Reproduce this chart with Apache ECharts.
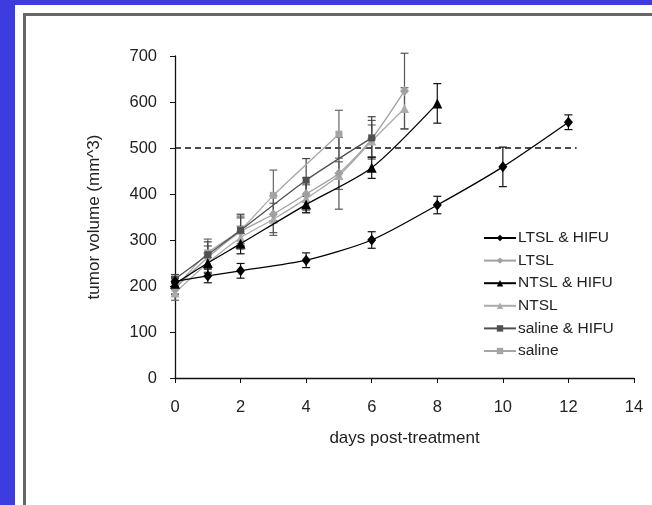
<!DOCTYPE html>
<html>
<head>
<meta charset="utf-8">
<script src="https://cdn.jsdelivr.net/npm/echarts@6/dist/echarts.min.js"></script>
<style>
  html, body { margin: 0; padding: 0; background: #fff; }
  #main { width: 652px; height: 505px; }
</style>
</head>
<body>
<div id="main"></div>
<script>
// days and mean tumor volume (mm^3) with +/- error
var daysLtslHifu = [0, 1, 2, 4, 6, 8, 10, 12];
var ltslHifu     = [210, 222, 233, 256, 300, 376, 459, 556];
var ltslHifuErr  = [10, 15, 16, 16, 18, 19, 43, 16];

var daysLtsl = [0, 1, 2, 3, 4, 5, 6, 7];
var ltsl     = [195, 262, 318, 356, 400, 445, 520, 624];
var ltslErr  = [14, 25, 30, 40, 35, 78, 40, 82];

var daysNtslHifu = [0, 1, 2, 4, 6, 8];
var ntslHifu     = [205, 250, 292, 377, 457, 597];
var ntslHifuErr  = [12, 22, 22, 18, 23, 43];

var daysNtsl = [0, 1, 2, 3, 4, 5, 6, 7];
var ntsl     = [185, 250, 305, 345, 390, 440, 515, 586];
var ntslErr  = [16, 20, 25, 35, 30, 30, 35, 45];

var daysSalineHifu = [0, 1, 2, 4, 6];
var salineHifu     = [215, 268, 321, 430, 522];
var salineHifuErr  = [10, 28, 35, 47, 46];

var daysSaline = [0, 1, 2, 3, 5];
var saline     = [195, 272, 322, 397, 530];
var salineErr  = [12, 30, 30, 55, 52];

var threshold = [[0, 500], [12.25, 500]];

var xTicks = [0, 2, 4, 6, 8, 10, 12, 14];
var yTicks = [0, 100, 200, 300, 400, 500, 600, 700];

var fontFam = '"Liberation Sans", Arial, sans-serif';

function pairs(days, vals) {
    return days.map(function (d, i) { return [d, vals[i]]; });
}
function errData(days, vals, err) {
    return days.map(function (d, i) { return [d, vals[i] - err[i], vals[i] + err[i]]; });
}

function lineSeries(name, days, vals, color, symbol, size, z) {
    return {
        name: name,
        type: 'line',
        data: pairs(days, vals),
        smooth: 0.25,
        symbol: symbol,
        symbolSize: size,
        z: z,
        lineStyle: { color: color, width: 1.3 },
        itemStyle: { color: color, borderWidth: 0 },
        emphasis: { disabled: true }
    };
}

function errSeries(name, days, vals, err, color, z) {
    return {
        name: name + ' err',
        type: 'custom',
        z: z,
        data: errData(days, vals, err),
        renderItem: function (params, api) {
            var x = api.value(0);
            var lo = api.coord([x, api.value(1)]);
            var hi = api.coord([x, api.value(2)]);
            var w = 4;
            var st = { stroke: color, lineWidth: 1.2 };
            return {
                type: 'group',
                children: [
                    { type: 'line', shape: { x1: hi[0], y1: hi[1], x2: lo[0], y2: lo[1] }, style: st },
                    { type: 'line', shape: { x1: hi[0] - w, y1: hi[1], x2: hi[0] + w, y2: hi[1] }, style: st },
                    { type: 'line', shape: { x1: lo[0] - w, y1: lo[1], x2: lo[0] + w, y2: lo[1] }, style: st }
                ]
            };
        }
    };
}

var names = ['LTSL & HIFU', 'LTSL', 'NTSL & HIFU', 'NTSL', 'saline & HIFU', 'saline'];

var option = {
    animation: false,
    backgroundColor: '#fff',
    textStyle: { fontFamily: fontFam },
    graphic: [
        { type: 'rect', left: 0, top: 0, shape: { width: 652, height: 505 }, style: { fill: '#3d3ddf' }, z: -10, silent: true },
        { type: 'rect', left: 15, top: 5, shape: { width: 700, height: 600 }, style: { fill: '#fff' }, z: -9, silent: true },
        { type: 'rect', left: 22, top: 12, shape: { x: 0, y: 0, width: 700, height: 600 }, style: { fill: 'none', stroke: '#666', lineWidth: 3 }, z: -8, silent: true }
    ],
    grid: { left: 175, top: 56, width: 459, height: 322 },
    legend: {
        data: names,
        orient: 'vertical',
        left: 478,
        top: 225,
        itemWidth: 32,
        itemHeight: 8,
        itemGap: 6.6,
        textStyle: { fontFamily: fontFam, fontSize: 15.5, color: '#222', padding: [0, 0, 0, -3] },
        selectedMode: false
    },
    xAxis: {
        type: 'value',
        min: xTicks[0],
        max: xTicks[xTicks.length - 1],
        interval: 2,
        name: 'days post-treatment',
        nameLocation: 'middle',
        nameGap: 52,
        nameTextStyle: { fontSize: 17, color: '#222', fontFamily: fontFam },
        axisLine: { lineStyle: { color: '#111', width: 1.3 } },
        axisTick: { show: true, length: 5, lineStyle: { color: '#111' } },
        axisLabel: { fontSize: 16.5, color: '#222', margin: 21, fontFamily: fontFam },
        splitLine: { show: false }
    },
    yAxis: {
        type: 'value',
        min: yTicks[0],
        max: yTicks[yTicks.length - 1],
        interval: 100,
        name: 'tumor volume (mm^3)',
        nameLocation: 'middle',
        nameGap: 72,
        nameTextStyle: { fontSize: 17, color: '#222', fontFamily: fontFam },
        axisLine: { show: true, lineStyle: { color: '#111', width: 1.3 } },
        axisTick: { show: true, length: 5, lineStyle: { color: '#111' } },
        axisLabel: { fontSize: 16.5, color: '#222', margin: 18, fontFamily: fontFam },
        splitLine: { show: false }
    },
    series: [
        {
            name: 'threshold',
            type: 'line',
            data: threshold,
            symbol: 'none',
            z: 1,
            lineStyle: { color: '#111', width: 1.5, type: [6, 4] },
            emphasis: { disabled: true }
        },
        errSeries('saline', daysSaline, saline, salineErr, '#666', 2),
        errSeries('NTSL', daysNtsl, ntsl, ntslErr, '#666', 2),
        errSeries('LTSL', daysLtsl, ltsl, ltslErr, '#555', 2),
        errSeries('saline & HIFU', daysSalineHifu, salineHifu, salineHifuErr, '#444', 2),
        errSeries('NTSL & HIFU', daysNtslHifu, ntslHifu, ntslHifuErr, '#111', 2),
        errSeries('LTSL & HIFU', daysLtslHifu, ltslHifu, ltslHifuErr, '#111', 2),
        lineSeries('saline', daysSaline, saline, '#a5a5a5', 'rect', 7, 3),
        lineSeries('NTSL', daysNtsl, ntsl, '#ababab', 'triangle', 9, 3),
        lineSeries('LTSL', daysLtsl, ltsl, '#a0a0a0', 'diamond', [9, 10], 3),
        lineSeries('saline & HIFU', daysSalineHifu, salineHifu, '#505050', 'rect', 7, 4),
        lineSeries('NTSL & HIFU', daysNtslHifu, ntslHifu, '#000', 'triangle', 10, 5),
        lineSeries('LTSL & HIFU', daysLtslHifu, ltslHifu, '#000', 'diamond', [9, 11], 5)
    ]
};

var chart = echarts.init(document.getElementById('main'));
chart.setOption(option);
</script>
</body>
</html>
